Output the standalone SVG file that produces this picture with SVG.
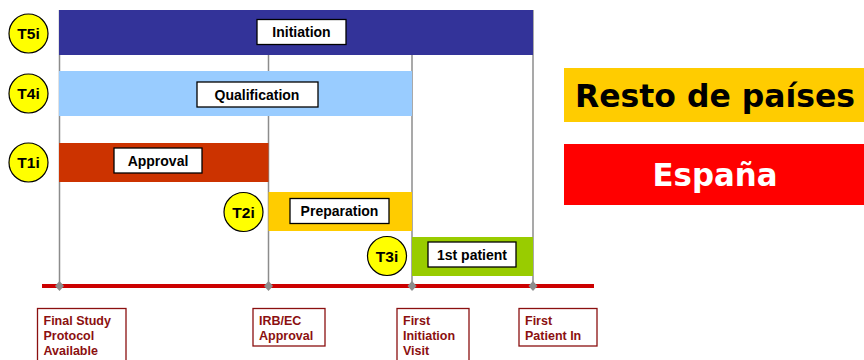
<svg xmlns="http://www.w3.org/2000/svg" width="864" height="360" viewBox="0 0 864 360">
<style>
.vl{stroke:#8c8c8c;stroke-width:1.5;fill:none}
.lbl{fill:#fff;stroke:#000;stroke-width:1.3}
.lt{font-family:"Liberation Sans",Arial,sans-serif;font-weight:bold;font-size:14px;fill:#000;text-anchor:middle}
.circ{fill:#ffff00;stroke:#000;stroke-width:1.2}
.ct{font-family:"Liberation Sans",Arial,sans-serif;font-weight:bold;font-size:15.5px;fill:#000;text-anchor:middle}
.mbox{fill:#fff;stroke:#8b1010;stroke-width:1.3}
.mt{font-family:"Liberation Sans",Arial,sans-serif;font-weight:bold;font-size:12.5px;fill:#8b1010}
.dia{fill:#8c8c8c}
.leg{font-family:"DejaVu Sans",Verdana,sans-serif;font-weight:bold;text-anchor:middle}
</style>
<g id="connectors">
<line class="vl" x1="59.5" y1="10" x2="59.5" y2="286"/>
<line class="vl" x1="268.5" y1="10" x2="268.5" y2="286"/>
<line class="vl" x1="412" y1="10" x2="412" y2="286"/>
<line class="vl" x1="533" y1="10" x2="533" y2="286"/>
<line x1="42" y1="286" x2="594" y2="286" stroke="#cc0000" stroke-width="4"/>
<path class="dia" d="M59.5,281 L64,286 L59.5,291 L55,286 Z"/>
<path class="dia" d="M268.5,281 L273,286 L268.5,291 L264,286 Z"/>
<path class="dia" d="M412,281 L416.5,286 L412,291 L407.5,286 Z"/>
<path class="dia" d="M533,281 L537.5,286 L533,291 L528.5,286 Z"/>
</g>
<g id="initiation">
<rect x="59" y="10" width="474" height="45" fill="#333399"/>
<rect class="lbl" x="257" y="19.5" width="89" height="25"/>
<text class="lt" x="301.5" y="37">Initiation</text>
</g>
<g id="qualification">
<rect x="59" y="71" width="353" height="45" fill="#99ccff"/>
<rect class="lbl" x="197" y="82" width="121" height="25"/>
<text class="lt" x="257" y="99.5">Qualification</text>
</g>
<g id="approval">
<rect x="59" y="143" width="209.5" height="39" fill="#cc3300"/>
<rect class="lbl" x="114" y="148" width="88" height="25"/>
<text class="lt" x="158" y="165.5">Approval</text>
</g>
<g id="preparation">
<rect x="268.5" y="192" width="143.5" height="39" fill="#ffcc00"/>
<rect class="lbl" x="290" y="198.5" width="99" height="25"/>
<text class="lt" x="339.5" y="216">Preparation</text>
</g>
<g id="first-patient">
<rect x="412" y="237" width="121" height="39" fill="#99cc00"/>
<rect class="lbl" x="428" y="242" width="88" height="25"/>
<text class="lt" x="472" y="259.5">1st patient</text>
</g>
<g id="T5i"><circle class="circ" cx="28.5" cy="33.5" r="19.5"/><text class="ct" x="28.5" y="39">T5i</text></g>
<g id="T4i"><circle class="circ" cx="28.5" cy="93.5" r="19.5"/><text class="ct" x="28.5" y="99">T4i</text></g>
<g id="T1i"><circle class="circ" cx="28.5" cy="162.5" r="19.5"/><text class="ct" x="28.5" y="168">T1i</text></g>
<g id="T2i"><circle class="circ" cx="243.5" cy="212" r="19.5"/><text class="ct" x="243.5" y="217.5">T2i</text></g>
<g id="T3i"><circle class="circ" cx="387" cy="256" r="19.5"/><text class="ct" x="387" y="261.5">T3i</text></g>
<g id="m-final-study">
<rect class="mbox" x="37.5" y="308.5" width="88.5" height="60"/>
<text class="mt" x="43.5" y="325">Final Study</text>
<text class="mt" x="43.5" y="340">Protocol</text>
<text class="mt" x="43.5" y="355">Available</text>
</g>
<g id="m-irb">
<rect class="mbox" x="253" y="308.5" width="72" height="37.5"/>
<text class="mt" x="259" y="325">IRB/EC</text>
<text class="mt" x="259" y="340">Approval</text>
</g>
<g id="m-first-initiation">
<rect class="mbox" x="397" y="308.5" width="72" height="60"/>
<text class="mt" x="403" y="325">First</text>
<text class="mt" x="403" y="340">Initiation</text>
<text class="mt" x="403" y="355">Visit</text>
</g>
<g id="m-first-patient">
<rect class="mbox" x="519" y="308.5" width="78" height="37.5"/>
<text class="mt" x="525" y="325">First</text>
<text class="mt" x="525" y="340">Patient In</text>
</g>
<g id="legend-resto">
<rect x="564" y="68" width="300" height="54" fill="#ffcc00"/>
<text class="leg" x="715" y="107" font-size="32" fill="#000" textLength="280" lengthAdjust="spacingAndGlyphs">Resto de países</text>
</g>
<g id="legend-espana">
<rect x="564" y="144" width="300" height="61" fill="#ff0000"/>
<text class="leg" x="715" y="186" font-size="32" fill="#fff" textLength="125" lengthAdjust="spacingAndGlyphs">España</text>
</g>
</svg>
